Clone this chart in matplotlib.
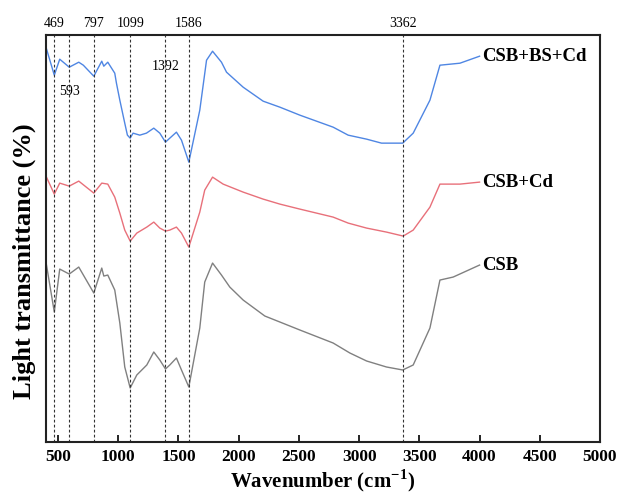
import numpy as np
import matplotlib
matplotlib.use('Agg')
import matplotlib.pyplot as plt

plt.rcParams['font.family'] = ['Liberation Serif', 'DejaVu Serif']
plt.rcParams['mathtext.fontset'] = 'custom'
plt.rcParams['mathtext.rm'] = 'Liberation Serif'
plt.rcParams['mathtext.bf'] = 'Liberation Serif:bold'

# wavenumber (cm-1) and light transmittance (arbitrary offset units)
wn_blue = [400, 469, 514, 593, 672, 710, 797, 863, 880, 913, 971, 985, 1013, 1054,
           1076, 1099, 1123, 1179, 1234, 1295, 1345, 1392, 1428, 1483, 1525, 1586,
           1677, 1733, 1783, 1857, 1899, 2037, 2203, 2342, 2508, 2784, 2909, 3062,
           3186, 3362, 3449, 3588, 3671, 3837, 4000]
t_blue = [395, 367, 383, 375, 380, 377, 366, 381, 376, 380, 369, 359, 342, 319,
          307, 304, 309, 307, 309, 314, 309, 300, 304, 310, 302, 280,
          332, 382, 391, 380, 370, 355, 341, 335, 327, 315, 307, 303,
          299, 299, 309, 342, 377, 379, 386]

wn_red = [400, 469, 514, 593, 672, 797, 863, 913, 971, 1013, 1054, 1099, 1154,
          1237, 1295, 1345, 1392, 1428, 1483, 1525, 1586, 1677, 1718, 1783, 1871,
          2037, 2203, 2342, 2508, 2784, 2909, 3062, 3227, 3366, 3449, 3588, 3671,
          3837, 4000]
t_red = [266, 248, 259, 256, 261, 249, 259, 258, 245, 229, 212, 201, 209,
         215, 220, 214, 211, 212, 215, 209, 195, 230, 252, 265, 258,
         250, 243, 238, 233, 225, 219, 214, 210, 206, 212, 235, 258,
         258, 260]

wn_gray = [400, 469, 514, 593, 672, 797, 863, 880, 913, 971, 1013, 1054, 1099,
           1154, 1237, 1295, 1345, 1392, 1428, 1483, 1525, 1586, 1677, 1718,
           1783, 1857, 1926, 2037, 2217, 2342, 2508, 2784, 2923, 3062, 3227,
           3362, 3449, 3588, 3671, 3781, 4000]
t_gray = [180, 130, 173, 168, 175, 149, 174, 166, 167, 152, 119, 75, 54,
          67, 77, 90, 82, 73, 77, 84, 72, 55, 114, 160,
          179, 167, 155, 142, 126, 120, 112, 99, 89, 81, 75,
          72, 77, 114, 162, 165, 177]

peaks = [469, 593, 797, 1099, 1392, 1586, 3362]
top_peaks = [469, 797, 1099, 1586, 3362]
series_names = ['CSB+BS+Cd', 'CSB+Cd', 'CSB']

fig = plt.figure(figsize=(6.19, 4.96), dpi=100)
ax = fig.add_axes([0.0743, 0.109, 0.8950, 0.820])

ax.plot(wn_blue, t_blue, color='#4f86e3', lw=1.0)
ax.plot(wn_red, t_red, color='#e8707a', lw=1.0)
ax.plot(wn_gray, t_gray, color='#808080', lw=1.0)

for p in peaks:
    ax.axvline(p, color='#333333', lw=0.8, ls=(0, (2.5, 2)))

for p in top_peaks:
    ax.text(p, 1.012, str(p), transform=ax.get_xaxis_transform(),
            ha='center', va='bottom', fontsize=10)
ax.text(593, 351, '593', ha='center', va='center', fontsize=10)
ax.text(1392, 376, '1392', ha='center', va='center', fontsize=10)

# curve labels at line ends
for wn, t, name in zip([wn_blue, wn_red, wn_gray], [t_blue, t_red, t_gray], series_names):
    ax.text(wn[-1] + 25, t[-1], name, ha='left', va='center',
            fontsize=13.5, fontweight='bold')

ax.set_xlim(400, 5000)
ax.set_ylim(0, 407)
ax.set_xticks(np.arange(500, 5001, 500))
ax.set_yticks([])
ax.tick_params(axis='x', direction='in', length=5, width=1.2, labelsize=12.5, pad=5)
for lab in ax.get_xticklabels():
    lab.set_fontweight('bold')
for s in ax.spines.values():
    s.set_linewidth(1.5)
    s.set_color('#222222')

ax.set_xlabel('Wavenumber (cm$^{\\mathbf{-1}}$)', fontsize=15, fontweight='bold', labelpad=2)
# y label sits a bit below the axes centre in the original
fig.text(24 / 619, 1 - 261 / 496, 'Light transmittance (%)', rotation=90,
         ha='center', va='center', fontsize=19, fontweight='bold')

fig.savefig('out.png', dpi=100)
